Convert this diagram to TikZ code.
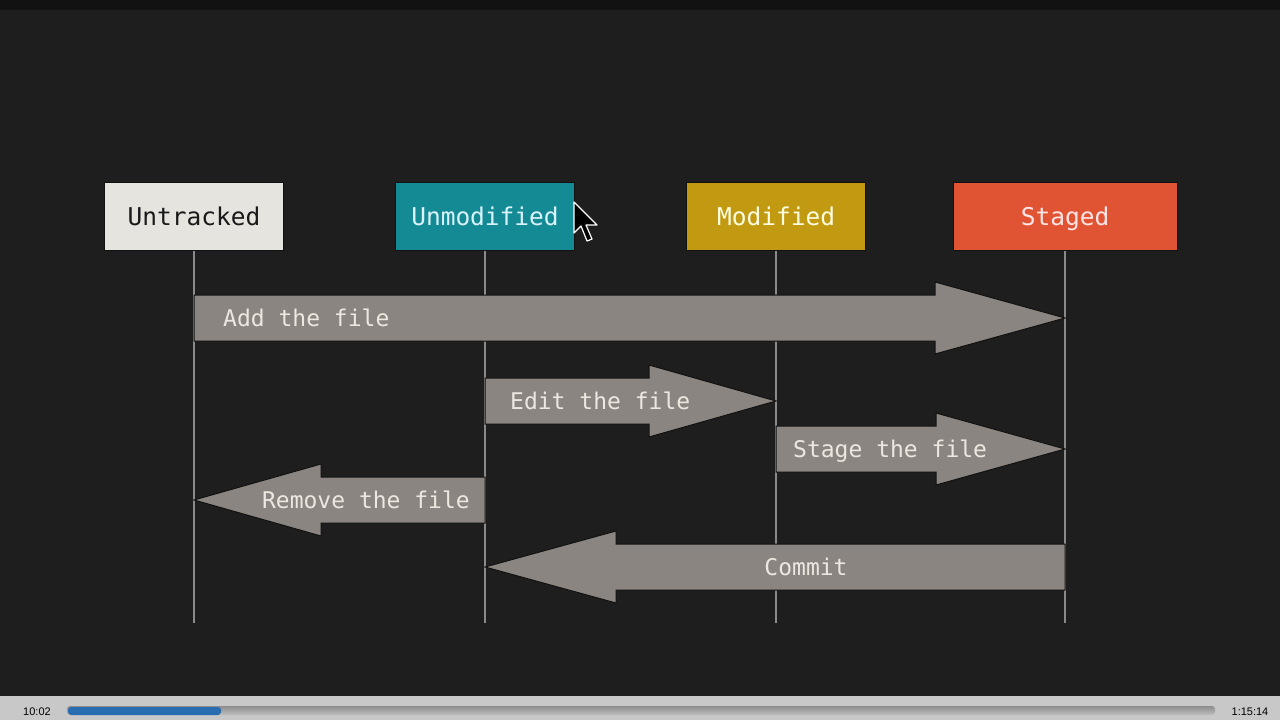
\documentclass[tikz,border=0pt]{standalone}
\usepackage{fontspec}
\setmainfont{Liberation Sans}
\setmonofont{DejaVu Sans Mono}
\usepackage{tikz}
\usetikzlibrary{calc}
\definecolor{screen}{HTML}{1E1E1E}
\definecolor{topstrip}{HTML}{121212}
\definecolor{boxline}{HTML}{111111}
\definecolor{untrackedfill}{HTML}{E6E4DF}
\definecolor{unmodifiedfill}{HTML}{148A94}
\definecolor{modifiedfill}{HTML}{C29A12}
\definecolor{stagedfill}{HTML}{E05434}
\definecolor{lifegray}{HTML}{8A8A8A}
\definecolor{flowfill}{HTML}{8A8580}
\definecolor{flowtext}{HTML}{ECE8E0}
\definecolor{barbg}{HTML}{C8C8C8}
\definecolor{progress}{HTML}{2A6CB0}
\tikzset{
  state box/.style={
    fill=#1,
    draw=boxline,
    line width=1pt,
    minimum width=179pt,
    minimum height=68pt,
    text height=18pt,
    text depth=0pt,
    font=\ttfamily\fontsize{24.5}{28}\selectfont,
  },
  lifeline/.style={
    draw=lifegray,
    line width=2.6pt,
  },
  flow/.style={
    fill=flowfill,
    draw=boxline,
    line width=1pt,
  },
  flow label/.style={
    text=flowtext,
    text height=17pt,
    text depth=0pt,
    inner sep=0pt,
    font=\ttfamily\fontsize{23}{27}\selectfont,
  },
  time label/.style={
    font=\fontsize{11}{13}\selectfont,
    text=black,
    inner sep=0pt,
  }
}
% tail, tip, signed head length
\newcommand{\flowarrow}[3]{%
  \draw[flow] ($(#1)+(0,-23)$) -- ($(#2)+({-(#3)},-23)$) -- ($(#2)+({-(#3)},-36)$) -- (#2)
    -- ($(#2)+({-(#3)},36)$) -- ($(#2)+({-(#3)},23)$) -- ($(#1)+(0,23)$) -- cycle;}

\begin{document}
\begin{tikzpicture}[x=1pt,y=-1pt]
    \useasboundingbox (0,0) rectangle (1280,720);
    \fill[screen] (0,0) rectangle (1280,720);
    \fill[topstrip] (0,0) rectangle (1280,10);

    % states
    \node [state box=untrackedfill, text=black!90] (untracked) at (194,216) {Untracked};
    \node [state box=unmodifiedfill, text=white!85!cyan] (unmodified) at (485,216) {Unmodified};
    \node [state box=modifiedfill, text=white!88!yellow] (modified) at (776,216) {Modified};
    \node [state box=stagedfill, text=white!90!red, minimum width=224pt] (staged) at (1065,216) {Staged};

    \coordinate (bottom) at (0,623);
    \foreach \s in {untracked,unmodified,modified,staged}
        \draw [lifeline] (\s.south) -- (\s.south |- bottom);

    % transitions
    \coordinate (add from) at (untracked.south |- 0,318);
    \coordinate (add to) at (staged.south |- 0,318);
    \coordinate (edit from) at (unmodified.south |- 0,401);
    \coordinate (edit to) at (modified.south |- 0,401);
    \coordinate (stage from) at (modified.south |- 0,449);
    \coordinate (stage to) at (staged.south |- 0,449);
    \coordinate (remove from) at (unmodified.south |- 0,500);
    \coordinate (remove to) at (untracked.south |- 0,500);
    \coordinate (commit from) at (staged.south |- 0,567);
    \coordinate (commit to) at (unmodified.south |- 0,567);

    \flowarrow{add from}{add to}{130}
    \flowarrow{edit from}{edit to}{127}
    \flowarrow{stage from}{stage to}{129}
    \flowarrow{remove from}{remove to}{-127}
    \flowarrow{commit from}{commit to}{-131}

    \node [flow label, anchor=west] (add label) at ($(add from)+(29,0)$) {Add the file};
    \node [flow label, anchor=west] (edit label) at ($(edit from)+(25,0)$) {Edit the file};
    \node [flow label, anchor=west] (stage label) at ($(stage from)+(17,0)$) {Stage the file};
    \node [flow label, anchor=east] (remove label) at ($(remove from)+(-15,0)$) {Remove the file};
    \node [flow label] (commit label) at ($(commit from)+(-259,0)$) {Commit};

    % pointer
    \filldraw [fill=black, draw=white, line width=1.2pt, line join=round]
        (574,202) -- (574,233) -- (581,226) -- (587,241) -- (592,239) -- (586,225) -- (597,225) -- cycle;

    % player bar
    \fill [barbg] (0,696) rectangle (1280,720);
    \shade [top color=black!45, bottom color=black!25, rounded corners=3pt] (67,706) rectangle (1215,715);
    \fill [progress, rounded corners=3pt] (68,707) rectangle (221,715);
    \node [time label] (elapsed) at (37,712) {10:02};
    \node [time label] (total) at (1250,712) {1:15:14};
\end{tikzpicture}
\end{document}
